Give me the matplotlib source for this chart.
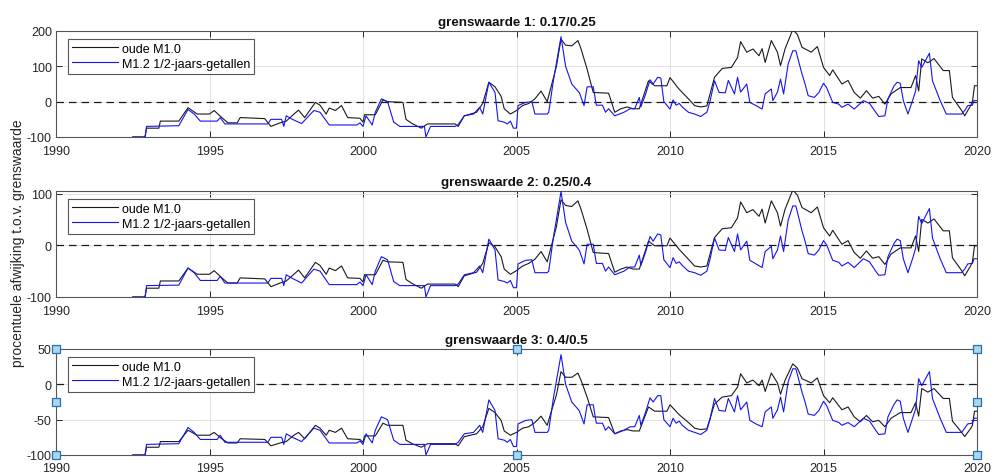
import matplotlib
matplotlib.use("Agg")
import matplotlib.pyplot as plt
import numpy as np

plt.rcParams['font.family'] = ['Liberation Sans', 'DejaVu Sans']
plt.rcParams['axes.unicode_minus'] = False

titles = ["grenswaarde 1: 0.17/0.25", "grenswaarde 2: 0.25/0.4", "grenswaarde 3: 0.4/0.5"]
legend_labels = ["oude M1.0", "M1.2 1/2-jaars-getallen"]
ylabel = "procentuele afwijking t.o.v. grenswaarde"
x_ticks = [1990, 1995, 2000, 2005, 2010, 2015, 2020]
y_ticks = [[-100, 0, 100, 200], [-100, 0, 100], [-100, -50, 0, 50]]
y_limits = [(-100, 200), (-100, 105), (-100, 50)]

# ---- oude M1.0 (black) ----
t_old = [1992.5, 1992.9, 1992.95, 1993.35, 1993.4, 1994.0, 1994.3, 1994.6, 1995.0, 1995.15,
         1995.4, 1995.6, 1995.9, 1996.0, 1996.8, 1997.0, 1997.3, 1997.5, 1997.75, 1997.9,
         1998.1, 1998.45, 1998.6, 1998.8, 1998.9, 1999.1, 1999.3, 1999.5, 1999.9, 2000.0,
         2000.05, 2000.4, 2000.65, 2000.8, 2001.3, 2001.4, 2001.6, 2001.9, 2002.1, 2003.0,
         2003.1, 2003.3, 2003.7, 2003.9, 2004.1, 2004.3, 2004.5, 2004.6, 2004.8, 2005.0,
         2005.2, 2005.4, 2005.6, 2005.8, 2006.0, 2006.15, 2006.3, 2006.45, 2006.6, 2006.8,
         2007.0, 2007.1, 2007.3, 2007.5, 2008.0, 2008.2, 2008.4, 2008.6, 2008.8, 2009.0,
         2009.3, 2009.5, 2009.9, 2010.0, 2010.3, 2010.6, 2010.8, 2011.0, 2011.2, 2011.45,
         2011.7, 2012.0, 2012.2, 2012.3, 2012.5, 2012.7, 2012.9, 2013.0, 2013.1, 2013.3,
         2013.5, 2013.6, 2013.75, 2014.0, 2014.15, 2014.3, 2014.6, 2014.8, 2015.0, 2015.2,
         2015.3, 2015.6, 2015.8, 2016.0, 2016.2, 2016.4, 2016.6, 2016.8, 2017.0, 2017.2,
         2017.5, 2017.85, 2018.0, 2018.1, 2018.2, 2018.4, 2018.6, 2018.9, 2019.1, 2019.2,
         2019.5, 2019.6, 2019.8, 2019.85, 2019.92, 2020.0]

old_1 = [-100, -100, -75, -75, -55, -55, -17, -35, -35, -25,
         -45, -60, -60, -45, -48, -70, -60, -55, -35, -24,
         -45, -2, -10, -35, -18, -25, -11, -45, -47, -58,
         -37, -37, 5, 0, -2, -50, -62, -75, -63, -63,
         -70, -40, -30, -5, 55, 42, 15, -20, -35, -25,
         -11, -5, 8, 30, 0, 50, 100, 177, 160, 158,
         173, 150, 92, 26, 24, -30, -20, -15, -20, -20,
         59, 45, 45, 68, 35, 8, -11, -15, -12, 69,
         94, 97, 125, 170, 140, 149, 130, 150, 111, 173,
         140, 102, 150, 204, 190, 154, 140, 156, 97, 74,
         90, 50, 60, 26, 10, 31, 10, 15, -7, 22,
         40, 40, 74, 30, 121, 110, 122, 88, 88, 12,
         -25, -40, -10, 0, 45, 45]

old_2 = [-100, -100, -83, -83, -69, -69, -44, -56, -56, -49,
         -63, -73, -73, -63, -65, -80, -73, -69, -56, -48,
         -63, -33, -39, -56, -44, -49, -40, -63, -64, -71,
         -57, -57, -29, -32, -33, -66, -74, -83, -75, -75,
         -80, -59, -52, -35, 5, -3, -22, -46, -56, -49,
         -40, -35, -27, -12, -32, 2, 36, 88, 77, 75,
         86, 70, 31, -14, -16, -52, -46, -42, -46, -46,
         8, -1, -1, 14, -8, -27, -40, -42, -40, 15,
         32, 34, 53, 84, 63, 69, 56, 70, 43, 86,
         63, 37, 70, 107, 97, 73, 63, 74, 34, 18,
         29, 2, 9, -14, -25, -11, -25, -22, -37, -17,
         -5, -5, 18, -12, 50, 43, 51, 28, 28, -24,
         -49, -59, -39, -32, -1, -1]

old_3 = [-100, -100, -89, -89, -81, -81, -65, -72, -72, -68,
         -77, -83, -83, -77, -78, -87, -83, -81, -72, -68,
         -77, -58, -62, -72, -65, -68, -62, -77, -78, -82,
         -73, -73, -55, -58, -58, -79, -84, -89, -84, -84,
         -87, -74, -70, -60, -34, -40, -51, -66, -72, -68,
         -62, -60, -54, -45, -58, -36, -15, 18, 10, 10,
         16, 6, -18, -46, -47, -70, -66, -64, -66, -66,
         -32, -38, -38, -29, -43, -54, -62, -64, -63, -28,
         -18, -16, -4, 15, 2, 6, -2, 6, -10, 16,
         2, -14, 6, 29, 23, 8, 2, 9, -16, -26,
         -19, -36, -32, -46, -53, -44, -53, -51, -60, -48,
         -40, -40, -26, -45, -6, -11, -6, -20, -20, -52,
         -68, -74, -62, -58, -38, -38]

# ---- M1.2 1/2-jaars-getallen (blue) ----
t_new = [1992.5, 1992.9, 1992.95, 1994.0, 1994.3, 1994.5, 1994.7, 1995.25, 1995.35, 1995.5,
         1996.9, 1997.0, 1997.35, 1997.42, 1997.5, 1997.7, 1998.0, 1998.4, 1998.6, 1998.9,
         1999.8, 1999.9, 2000.0, 2000.1, 2000.3, 2000.4, 2000.6, 2000.8, 2001.0, 2001.2,
         2002.0, 2002.05, 2002.2, 2003.0, 2003.1, 2003.3, 2003.6, 2003.8, 2003.9, 2004.1,
         2004.3, 2004.4, 2004.6, 2004.7, 2004.8, 2004.9, 2005.0, 2005.05, 2005.3, 2005.5,
         2005.6, 2006.0, 2006.05, 2006.2, 2006.45, 2006.6, 2006.8, 2007.0, 2007.05, 2007.2,
         2007.3, 2007.5, 2007.6, 2007.8, 2007.9, 2008.0, 2008.2, 2008.5, 2008.7, 2008.85,
         2009.0, 2009.05, 2009.2, 2009.35, 2009.45, 2009.6, 2009.7, 2009.8, 2010.0, 2010.1,
         2010.2, 2010.3, 2010.4, 2010.6, 2010.8, 2011.0, 2011.2, 2011.3, 2011.45, 2011.6,
         2011.8, 2011.9, 2012.1, 2012.2, 2012.3, 2012.5, 2012.6, 2012.8, 2013.0, 2013.1,
         2013.3, 2013.35, 2013.5, 2013.6, 2013.7, 2013.85, 2014.0, 2014.1, 2014.3, 2014.4,
         2014.5, 2014.7, 2014.85, 2015.0, 2015.1, 2015.3, 2015.5, 2015.6, 2015.8, 2016.0,
         2016.3, 2016.5, 2016.7, 2016.8, 2017.0, 2017.1, 2017.3, 2017.4, 2017.5, 2017.6,
         2017.75, 2017.9, 2018.0, 2018.1, 2018.2, 2018.45, 2018.55, 2018.8, 2019.0, 2019.5,
         2019.6, 2019.7, 2019.85, 2019.9, 2020.0]

new_1 = [-100, -100, -70, -68, -22, -35, -55, -55, -45, -63,
         -63, -50, -50, -70, -40, -50, -62, -25, -30, -66,
         -66, -60, -70, -40, -66, -30, 8, 0, -58, -70,
         -70, -100, -70, -70, -65, -40, -35, -16, -35, 55,
         26, -54, -58, -63, -55, -75, -75, -11, -2, 0,
         -35, -35, -30, 59, 184, 100, 50, 30, 25, -11,
         42, 42, -10, -10, -30, -20, -40, -30, -20, -20,
         12, -15, 20, 62, 50, 69, 67, 0, -21, 5,
         -10, -5, -15, -30, -35, -42, -30, 0, 59, 26,
         25, 60, 22, 69, 27, 50, -2, -11, -21, 22,
         36, 3, 27, 64, 22, 107, 144, 144, 78, 50,
         17, 12, 26, 52, 40, -2, -7, -16, -7, -21,
         3, -5, -30, -42, -40, 8, 45, 55, 52, 3,
         -35, 3, 30, 116, 97, 137, 59, 3, -35, -35,
         -25, -11, -10, 3, 3]

new_2 = [-100, -100, -78, -77, -44, -53, -68, -68, -60, -73,
         -73, -64, -64, -78, -57, -64, -73, -46, -50, -76,
         -76, -71, -78, -57, -76, -50, -22, -28, -70, -78,
         -78, -100, -78, -78, -75, -57, -53, -40, -53, 12,
         -9, -67, -70, -73, -68, -82, -82, -36, -29, -28,
         -53, -53, -50, 14, 104, 44, 8, -6, -10, -36,
         2, 2, -35, -35, -50, -42, -57, -50, -42, -42,
         -19, -39, -14, 17, 8, 22, 20, -28, -43, -24,
         -35, -32, -39, -50, -53, -58, -50, -28, 14, -9,
         -10, 15, -12, 22, -9, 8, -29, -36, -43, -12,
         -2, -26, -9, 18, -12, 49, 76, 76, 28, 8,
         -16, -19, -9, 9, 1, -29, -33, -40, -33, -43,
         -26, -32, -50, -58, -57, -22, 4, 12, 9, -26,
         -53, -26, -6, 56, 42, 71, 14, -26, -53, -53,
         -46, -36, -35, -26, -26]

new_3 = [-100, -100, -85, -84, -61, -68, -78, -78, -72, -82,
         -82, -75, -75, -85, -70, -75, -81, -62, -65, -83,
         -83, -80, -85, -70, -83, -65, -46, -50, -79, -85,
         -85, -100, -85, -85, -82, -70, -68, -58, -68, -22,
         -37, -77, -79, -82, -78, -88, -88, -56, -51, -50,
         -68, -68, -65, -20, 42, 0, -25, -35, -38, -56,
         -29, -29, -55, -55, -65, -60, -70, -65, -60, -60,
         -44, -58, -40, -19, -25, -16, -16, -50, -60, -48,
         -55, -52, -58, -65, -68, -71, -65, -50, -20, -37,
         -38, -20, -39, -16, -36, -25, -51, -56, -60, -39,
         -32, -48, -36, -18, -39, 4, 22, 22, -11, -25,
         -42, -44, -37, -24, -30, -51, -54, -58, -54, -60,
         -48, -52, -65, -71, -70, -46, -28, -22, -24, -48,
         -68, -48, -35, 8, -2, 18, -20, -48, -68, -68,
         -62, -56, -55, -48, -48]

old_series = [old_1, old_2, old_3]
new_series = [new_1, new_2, new_3]

fig = plt.figure(figsize=(9.96, 4.77), dpi=100)
W, H = 996.0, 477.0
ax_left = 56 / W
ax_w = (977 - 56) / W
ax_h = 106 / H
bottoms_px = [138, 298, 456]
x_pads = [6, 6, 5]

axes = []
for i in range(3):
    ax = fig.add_axes([ax_left, 1 - bottoms_px[i] / H, ax_w, ax_h])
    axes.append(ax)
    ax.grid(True, color='#dcdcdc', linewidth=0.6, zorder=0)
    ax.axhline(0, color='#1a1a1a', linestyle=(0, (6, 4)), linewidth=0.9, zorder=2)
    l1, = ax.plot(t_old, old_series[i], color='#1a1a1a', linewidth=0.8, zorder=3)
    l2, = ax.plot(t_new, new_series[i], color='#1414f0', linewidth=0.8, zorder=3)
    ax.set_xlim(1990, 2020)
    ax.set_ylim(*y_limits[i])
    ax.set_xticks(x_ticks)
    ax.set_yticks(y_ticks[i])
    ax.tick_params(direction='in', length=4, width=0.7, top=True, right=True,
                   labelsize=9, colors='#262626')
    ax.tick_params(axis='x', pad=x_pads[i])
    ax.tick_params(axis='y', pad=3)
    for sp in ax.spines.values():
        sp.set_color('#555555')
        sp.set_linewidth(0.8)
    ax.set_title(titles[i], fontsize=9.6, fontweight='bold', pad=4, color='#111111')
    leg = ax.legend([l1, l2], legend_labels, loc='upper left', fontsize=9,
                    fancybox=False, framealpha=1, edgecolor='#555555',
                    handlelength=3.7, handletextpad=0.3, borderpad=0.3,
                    labelspacing=0.25, bbox_to_anchor=(0.013, 0.925), borderaxespad=0)
    leg.get_frame().set_linewidth(0.8)

# selection handles on the bottom axes
ax3 = axes[2]
hx = [0, 0.5, 1, 0, 1, 0, 0.5, 1]
hy = [1, 1, 1, 0.5, 0.5, 0, 0, 0]
ax3.plot(hx, hy, linestyle='none', marker='s', markersize=5.5,
         markerfacecolor='#a8d8f0', markeredgecolor='#2a6eb0', markeredgewidth=0.9,
         transform=ax3.transAxes, clip_on=False, zorder=10)

fig.text(18 / W, 1 - 243 / H, ylabel, rotation=90, ha='center', va='center',
         fontsize=10, color='#262626')

fig.savefig('out.png', dpi=100)
